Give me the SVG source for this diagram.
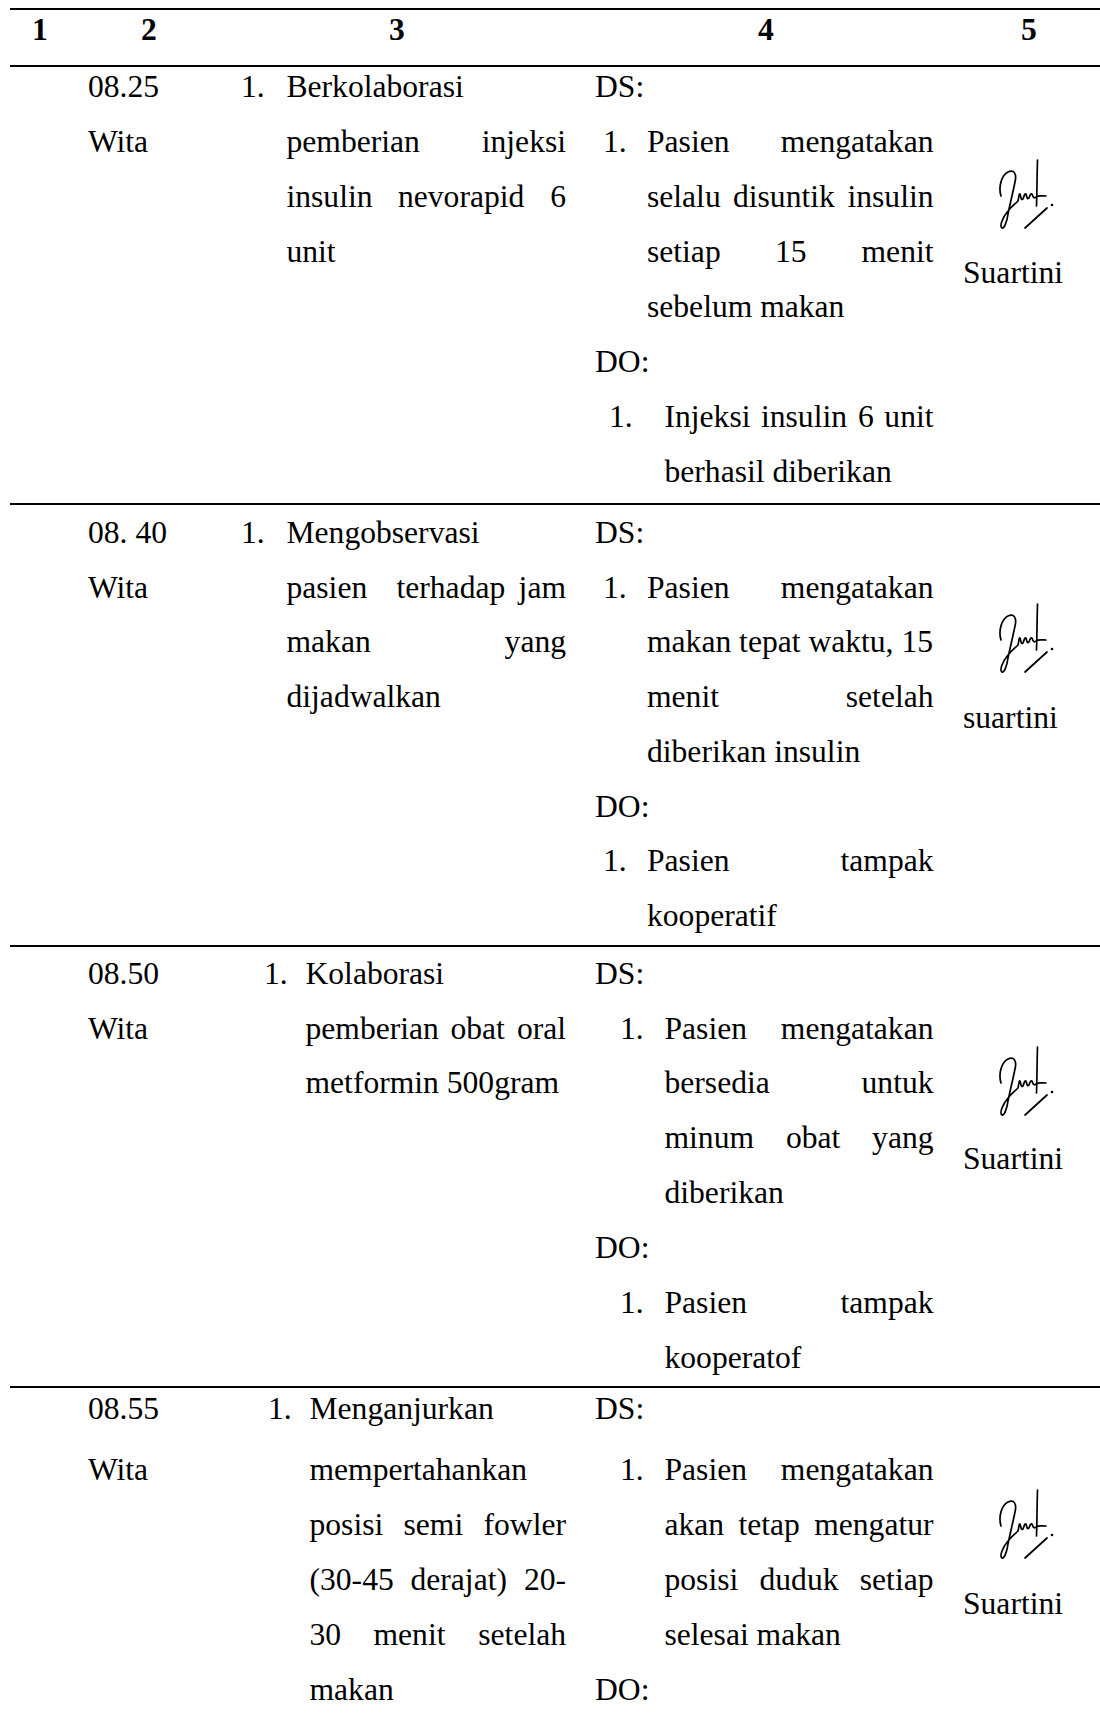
<svg xmlns="http://www.w3.org/2000/svg" xmlns:xlink="http://www.w3.org/1999/xlink" width="1100" height="1717" viewBox="0 0 1100 1717">
  <style>
    text { font-family: "Liberation Serif", "Times New Roman", serif; font-size: 31.6px; fill: #000; }
    .h { font-weight: bold; text-anchor: middle; }
    .e { text-anchor: end; }
    .rule { stroke: #000; stroke-width: 2; }
    .sig { fill: none; stroke: #000; stroke-width: 1.7; stroke-linecap: round; stroke-linejoin: round; }
  </style>
  <defs>
    <!-- handwritten initials, drawn once and reused in every row -->
    <g id="signature">
      <path class="sig" d="M1001,196 C998,186 1002,175 1008,172 C1014,169 1017,174 1015,182 C1013,192 1010,204 1008,214 C1007,222 1004,229 1002,228 C999,226 1003,217 1008,211 C1011,207 1015,204 1018,201 C1019,197 1019,193 1020,194 C1021,197 1021,201 1023,199 C1024,196 1025,193 1026,194 C1027,197 1027,200 1029,198 C1030,195 1031,193 1032,194 C1033,197 1034,199 1036,197 C1038,195 1042,196 1046,196"/>
      <path class="sig" d="M1037.5,160 C1037,176 1037,192 1036.5,206"/>
      <path class="sig" d="M1025,228 L1047,208"/>
      <circle cx="1052" cy="205" r="1.3" fill="#000"/>
    </g>
  </defs>

  <!-- horizontal rules of the table -->
  <g id="rules">
    <line class="rule" x1="10" y1="9" x2="1100" y2="9"/>
    <line class="rule" x1="10" y1="66" x2="1100" y2="66"/>
    <line class="rule" x1="10" y1="504" x2="1100" y2="504"/>
    <line class="rule" x1="10" y1="946" x2="1100" y2="946"/>
    <line class="rule" x1="10" y1="1387" x2="1100" y2="1387"/>
  </g>

  <!-- column numbers -->
  <g id="header">
    <text class="h" x="40" y="40">1</text>
    <text class="h" x="149" y="40">2</text>
    <text class="h" x="397" y="40">3</text>
    <text class="h" x="766" y="40">4</text>
    <text class="h" x="1029" y="40">5</text>
  </g>

  <!-- entry 08.25 -->
  <g id="row-1">
    <text x="88" y="97">08.25</text>
    <text x="88" y="152">Wita</text>

    <text x="241" y="97">1.</text>
    <text x="286.5" y="97">Berkolaborasi</text>
    <text x="286.5" y="152">pemberian</text>
    <text class="e" x="566" y="152">injeksi</text>
    <text x="286.5" y="207">insulin</text>
    <text x="398" y="207">nevorapid</text>
    <text class="e" x="566" y="207">6</text>
    <text x="286.5" y="262">unit</text>

    <text x="595" y="97">DS:</text>
    <text x="603" y="152">1.</text>
    <text x="647" y="152">Pasien</text>
    <text class="e" x="933.5" y="152">mengatakan</text>
    <text x="647" y="207">selalu</text>
    <text x="733" y="207">disuntik</text>
    <text class="e" x="933.5" y="207">insulin</text>
    <text x="647" y="262">setiap</text>
    <text x="775" y="262">15</text>
    <text class="e" x="933.5" y="262">menit</text>
    <text x="647" y="317">sebelum makan</text>
    <text x="595" y="372">DO:</text>
    <text x="609" y="427">1.</text>
    <text x="664.5" y="427">Injeksi</text>
    <text x="761" y="427">insulin</text>
    <text x="858" y="427">6</text>
    <text class="e" x="933.5" y="427">unit</text>
    <text x="664.5" y="482">berhasil diberikan</text>

    <use xlink:href="#signature"/>
    <text x="963" y="283">Suartini</text>
  </g>

  <!-- entry 08.40 -->
  <g id="row-2">
    <text x="88" y="543">08. 40</text>
    <text x="88" y="598">Wita</text>

    <text x="241" y="543">1.</text>
    <text x="286.5" y="543">Mengobservasi</text>
    <text x="286.5" y="598">pasien</text>
    <text x="396.5" y="598">terhadap</text>
    <text class="e" x="566" y="598">jam</text>
    <text x="286.5" y="652">makan</text>
    <text class="e" x="566" y="652">yang</text>
    <text x="286.5" y="707">dijadwalkan</text>

    <text x="595" y="543">DS:</text>
    <text x="603" y="598">1.</text>
    <text x="647" y="598">Pasien</text>
    <text class="e" x="933.5" y="598">mengatakan</text>
    <text x="647" y="652">makan tepat waktu, 15</text>
    <text x="647" y="707">menit</text>
    <text class="e" x="933.5" y="707">setelah</text>
    <text x="647" y="762">diberikan insulin</text>
    <text x="595" y="817">DO:</text>
    <text x="603" y="871">1.</text>
    <text x="647" y="871">Pasien</text>
    <text class="e" x="933.5" y="871">tampak</text>
    <text x="647" y="926">kooperatif</text>

    <use xlink:href="#signature" transform="translate(0,444)"/>
    <text x="963" y="728">suartini</text>
  </g>

  <!-- entry 08.50 -->
  <g id="row-3">
    <text x="88" y="984">08.50</text>
    <text x="88" y="1039">Wita</text>

    <text x="264" y="984">1.</text>
    <text x="305.5" y="984">Kolaborasi</text>
    <text x="305.5" y="1039">pemberian</text>
    <text x="450.5" y="1039">obat</text>
    <text class="e" x="566" y="1039">oral</text>
    <text x="305.5" y="1093">metformin 500gram</text>

    <text x="595" y="984">DS:</text>
    <text x="620" y="1039">1.</text>
    <text x="664.5" y="1039">Pasien</text>
    <text class="e" x="933.5" y="1039">mengatakan</text>
    <text x="664.5" y="1093">bersedia</text>
    <text class="e" x="933.5" y="1093">untuk</text>
    <text x="664.5" y="1148">minum</text>
    <text x="786" y="1148">obat</text>
    <text class="e" x="933.5" y="1148">yang</text>
    <text x="664.5" y="1203">diberikan</text>
    <text x="595" y="1258">DO:</text>
    <text x="620" y="1313">1.</text>
    <text x="664.5" y="1313">Pasien</text>
    <text class="e" x="933.5" y="1313">tampak</text>
    <text x="664.5" y="1368">kooperatof</text>

    <use xlink:href="#signature" transform="translate(0,887)"/>
    <text x="963" y="1169">Suartini</text>
  </g>

  <!-- entry 08.55 -->
  <g id="row-4">
    <text x="88" y="1419">08.55</text>
    <text x="88" y="1480">Wita</text>

    <text x="268" y="1419">1.</text>
    <text x="309.5" y="1419">Menganjurkan</text>
    <text x="309.5" y="1480">mempertahankan</text>
    <text x="309.5" y="1535">posisi</text>
    <text x="403.5" y="1535">semi</text>
    <text class="e" x="566" y="1535">fowler</text>
    <text x="309.5" y="1590">(30-45</text>
    <text x="410.5" y="1590">derajat)</text>
    <text class="e" x="566" y="1590">20-</text>
    <text x="309.5" y="1645">30</text>
    <text x="373.5" y="1645">menit</text>
    <text class="e" x="566" y="1645">setelah</text>
    <text x="309.5" y="1700">makan</text>

    <text x="595" y="1419">DS:</text>
    <text x="620" y="1480">1.</text>
    <text x="664.5" y="1480">Pasien</text>
    <text class="e" x="933.5" y="1480">mengatakan</text>
    <text x="664.5" y="1535">akan</text>
    <text x="738.5" y="1535">tetap</text>
    <text class="e" x="933.5" y="1535">mengatur</text>
    <text x="664.5" y="1590">posisi</text>
    <text x="759.5" y="1590">duduk</text>
    <text class="e" x="933.5" y="1590">setiap</text>
    <text x="664.5" y="1645">selesai makan</text>
    <text x="595" y="1700">DO:</text>

    <use xlink:href="#signature" transform="translate(0,1330)"/>
    <text x="963" y="1614">Suartini</text>
  </g>
</svg>
